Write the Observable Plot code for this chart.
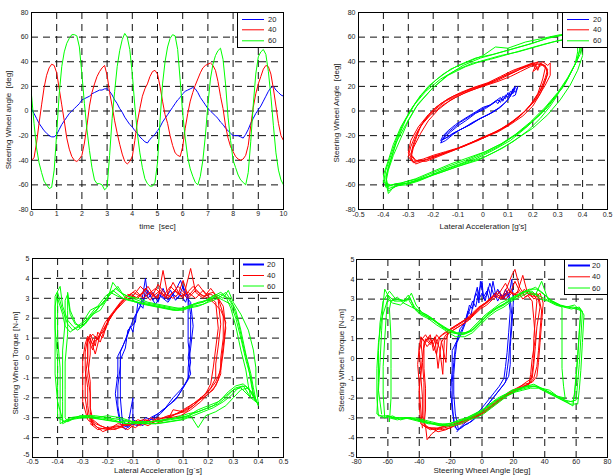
<!DOCTYPE html>
<html>
<head>
<meta charset="utf-8">
<script src="https://cdn.jsdelivr.net/npm/d3@7"></script>
<script src="https://cdn.jsdelivr.net/npm/@observablehq/plot@0.6"></script>
<style>
  html, body { margin: 0; padding: 0; background: #fff; }
  body { width: 613px; height: 476px; position: relative; overflow: hidden; font-family: "Liberation Sans", Arial, sans-serif; }
  .panel { position: absolute; }
  .legend { position: absolute; }
</style>
</head>
<body>
<script>
// ---------- series ----------
const seriesNames = ["20", "40", "60"];
const seriesColors = ["#0000ff", "#ff0000", "#00ff00"];

// ---------- tick labels ----------
const ticksTime = [0, 1, 2, 3, 4, 5, 6, 7, 8, 9, 10];
const ticksAngle = [-80, -60, -40, -20, 0, 20, 40, 60, 80];
const ticksAcc = [-0.5, -0.4, -0.3, -0.2, -0.1, 0, 0.1, 0.2, 0.3, 0.4, 0.5];
const ticksTorque = [-5, -4, -3, -2, -1, 0, 1, 2, 3, 4, 5];

// ---------- panel 1 : steering wheel angle vs time ----------
const p1Time = [0,0.1,0.2,0.3,0.4,0.5,0.6,0.7,0.8,0.9,1,1.1,1.2,1.3,1.4,1.5,1.6,1.7,1.8,1.9,2,2.1,2.2,2.3,2.4,2.5,2.6,2.7,2.8,2.9,3,3.1,3.2,3.3,3.4,3.5,3.6,3.7,3.8,3.9,4,4.1,4.2,4.3,4.4,4.5,4.6,4.7,4.8,4.9,5,5.1,5.2,5.3,5.4,5.5,5.6,5.7,5.8,5.9,6,6.1,6.2,6.3,6.4,6.5,6.6,6.7,6.8,6.9,7,7.1,7.2,7.3,7.4,7.5,7.6,7.7,7.8,7.9,8,8.1,8.2,8.3,8.4,8.5,8.6,8.7,8.8,8.9,9,9.1,9.2,9.3,9.4,9.5,9.6,9.7,9.8,9.9,10];
const p1Angle20 = [2,-2,-6,-10,-13,-16,-18,-20,-21,-21,-19,-15,-11,-8,-5,-2,0,2,4,6,9,10,11,12,14,15,16,17,17,18,18,16,13,9,6,2,-1,-5,-8,-11,-13,-16,-18,-21,-23,-25,-26,-23,-21,-19,-16,-13,-9,-6,-3,0,3,6,9,11,14,16,17,18,19,18,15,11,8,5,2,0,-2,-4,-6,-9,-11,-14,-16,-18,-20,-20,-20,-21,-22,-19,-15,-10,-6,-2,1,4,8,12,16,19,20,17,15,13,12];
const p1Angle40 = [-40,-38,-26,-10,5,19,29,35,38,37,31,18,5,-8,-22,-31,-37,-40,-41,-39,-36,-26,-12,4,15,22,28,32,35,37,29,15,4,-8,-18,-27,-35,-41,-43,-41,-37,-24,-9,2,12,18,22,28,32,33,30,20,8,-3,-10,-20,-28,-34,-36,-37,-29,-14,-2,8,15,21,26,31,35,37,38,39,37,33,24,12,2,-12,-22,-29,-33,-37,-39,-40,-39,-36,-28,-12,3,14,22,28,34,37,36,30,18,4,-10,-20,-24];
const p1Angle60 = [13,-10,-30,-42,-50,-57,-60,-63,-62,-48,-18,14,36,48,55,59,62,62,61,52,30,6,-15,-32,-46,-56,-59,-59,-60,-64,-62,-36,-6,16,36,49,58,63,60,50,30,4,-18,-34,-46,-55,-59,-61,-61,-58,-42,-8,22,40,52,59,62,61,50,25,-2,-22,-38,-47,-53,-58,-60,-53,-40,-20,5,26,38,45,49,51,42,22,-5,-24,-40,-46,-52,-56,-58,-60,-50,-25,5,30,44,48,50,46,32,12,-12,-34,-48,-56,-60];

// ---------- panel 2 : [lateral acceleration g, steering angle deg] ----------
const p2Loop20 = [[0.06,2],[0.02,-3],[-0.02,-7],[-0.06,-12],[-0.1,-16],[-0.14,-21],[-0.17,-24],[-0.16,-20],[-0.14,-16],[-0.11,-11],[-0.08,-7],[-0.04,-2],[0,3],[0.03,5],[0.05,8],[0.06,6],[0.07,10],[0.08,8],[0.09,13],[0.1,11],[0.11,16],[0.12,14],[0.13,19],[0.12,17],[0.11,12],[0.09,7],[0.06,2],[0.03,-2],[-0.01,-6],[-0.05,-11],[-0.09,-15],[-0.12,-19],[-0.15,-24],[-0.17,-26],[-0.16,-22],[-0.13,-17],[-0.1,-12],[-0.07,-8],[-0.03,-2],[0.01,2],[0.04,6],[0.06,9],[0.07,7],[0.08,12],[0.09,10],[0.1,15],[0.11,13],[0.12,18],[0.13,20],[0.12,16],[0.1,9],[0.07,3],[0.04,-1],[0,-5],[-0.04,-9],[-0.08,-14],[-0.12,-18],[-0.15,-22],[-0.16,-23],[-0.15,-19],[-0.12,-14],[-0.09,-9],[-0.05,-4],[-0.01,1],[0.03,5],[0.05,8],[0.07,11],[0.08,9],[0.1,14],[0.11,12],[0.12,17],[0.13,15],[0.14,20],[0.13,13],[0.12,12]];
const p2Loop40 = [[-0.27,-41],[-0.29,-36],[-0.28,-27],[-0.26,-16],[-0.23,-6],[-0.19,3],[-0.14,10],[-0.09,15],[-0.04,19],[0.02,23],[0.07,28],[0.12,33],[0.16,36],[0.2,39],[0.23,39],[0.25,35],[0.24,26],[0.22,14],[0.19,5],[0.15,-4],[0.1,-12],[0.04,-18],[-0.02,-24],[-0.08,-29],[-0.14,-33],[-0.19,-37],[-0.24,-40],[-0.28,-42],[-0.3,-37],[-0.29,-29],[-0.27,-19],[-0.24,-9],[-0.2,0],[-0.15,8],[-0.1,13],[-0.05,18],[0,21],[0.05,25],[0.1,30],[0.14,34],[0.18,37],[0.21,38],[0.22,33],[0.23,39],[0.25,36],[0.26,31],[0.25,24],[0.23,14],[0.2,4],[0.16,-4],[0.11,-11],[0.06,-17],[0,-22],[-0.06,-27],[-0.12,-32],[-0.18,-36],[-0.23,-40],[-0.27,-43],[-0.29,-39],[-0.28,-30],[-0.25,-18],[-0.22,-8],[-0.18,1],[-0.13,9],[-0.08,14],[-0.03,18],[0.03,23],[0.08,28],[0.13,32],[0.17,36],[0.2,39],[0.21,34],[0.24,40],[0.26,37],[0.27,39],[0.27,29],[0.25,21],[0.22,11],[0.18,2],[0.13,-7],[0.08,-14],[0.02,-20],[-0.04,-25],[-0.1,-30],[-0.15,-33],[-0.2,-36],[-0.24,-39],[-0.28,-41],[-0.3,-34],[-0.29,-24],[-0.26,-13],[-0.22,-3],[-0.17,6],[-0.12,12],[-0.07,16],[-0.01,20],[0.05,24],[0.1,29],[0.15,34],[0.19,37],[0.22,40],[0.2,32],[0.24,38],[0.26,34],[0.25,27],[0.23,17],[0.2,7],[0.16,-2],[0.11,-10],[0.05,-17],[-0.01,-22],[-0.07,-28],[-0.13,-33],[-0.18,-37],[-0.23,-41],[-0.27,-40],[-0.29,-35],[-0.27,-23],[-0.25,-12],[-0.21,-3],[-0.16,5],[-0.11,11],[-0.06,16],[0,20],[0.06,24],[0.11,28],[0.15,32],[0.19,36],[0.22,38],[0.25,37],[0.26,30],[0.24,20],[0.21,9],[0.17,0],[0.12,-8],[0.07,-15],[0.01,-21],[-0.05,-26],[-0.11,-31],[-0.17,-35],[-0.22,-38]];
const p2Loop60 = [[0.3,13],[0.27,4],[0.23,-6],[0.18,-16],[0.12,-25],[0.05,-33],[-0.02,-40],[-0.1,-45],[-0.17,-50],[-0.23,-54],[-0.29,-58],[-0.34,-60],[-0.38,-65],[-0.39,-55],[-0.38,-45],[-0.36,-33],[-0.34,-21],[-0.31,-7],[-0.27,7],[-0.22,20],[-0.16,30],[-0.1,37],[-0.03,43],[0.04,46],[0.11,50],[0.18,54],[0.26,59],[0.33,62],[0.38,60],[0.39,52],[0.38,42],[0.35,30],[0.32,19],[0.27,7],[0.23,-3],[0.17,-14],[0.11,-24],[0.04,-32],[-0.03,-39],[-0.1,-44],[-0.17,-49],[-0.24,-55],[-0.3,-59],[-0.35,-59],[-0.39,-62],[-0.4,-52],[-0.38,-40],[-0.36,-27],[-0.33,-13],[-0.29,1],[-0.25,13],[-0.19,25],[-0.13,34],[-0.06,40],[0,45],[0.05,52],[0.1,51],[0.17,56],[0.24,59],[0.31,62],[0.36,63],[0.4,57],[0.39,46],[0.36,34],[0.33,22],[0.29,11],[0.24,0],[0.18,-12],[0.12,-21],[0.06,-29],[-0.01,-36],[-0.08,-42],[-0.15,-47],[-0.22,-53],[-0.28,-57],[-0.33,-60],[-0.38,-63],[-0.39,-53],[-0.37,-40],[-0.35,-26],[-0.31,-11],[-0.27,3],[-0.21,17],[-0.15,28],[-0.08,37],[-0.01,43],[0.06,47],[0.13,51],[0.2,55],[0.27,60],[0.33,62],[0.38,58],[0.38,48],[0.37,38],[0.34,27],[0.3,15],[0.25,3],[0.19,-9],[0.13,-19],[0.07,-27],[0,-34],[-0.07,-40],[-0.14,-45],[-0.2,-50],[-0.26,-55],[-0.32,-58],[-0.37,-60],[-0.4,-58],[-0.39,-48],[-0.37,-36],[-0.35,-24],[-0.32,-10],[-0.28,4],[-0.23,16],[-0.17,26],[-0.11,33],[-0.04,39],[0.03,42],[0.1,46],[0.17,50],[0.24,54],[0.3,57],[0.35,58],[0.38,55],[0.39,50],[0.37,38],[0.34,26],[0.3,14],[0.26,3],[0.2,-8],[0.14,-18],[0.08,-26],[0.01,-33],[-0.06,-38],[-0.13,-43],[-0.2,-49],[-0.27,-55],[-0.32,-58],[-0.36,-62],[-0.38,-67],[-0.39,-58],[-0.38,-48],[-0.36,-36],[-0.33,-22],[-0.3,-8],[-0.26,6],[-0.2,19],[-0.14,29],[-0.07,36],[0,41],[0.07,45],[0.14,48],[0.21,52],[0.28,56],[0.34,59],[0.39,55],[0.4,45],[0.38,33],[0.35,21],[0.31,9],[0.26,-3],[0.2,-14],[0.14,-22],[0.08,-30],[0.01,-37],[-0.06,-42],[-0.13,-47],[-0.2,-52],[-0.26,-57],[-0.31,-60],[-0.36,-61],[-0.39,-60]];

// ---------- panel 3 : [lateral acceleration g, steering torque N-m] ----------
const p3Loop20 = [[-0.15,-3.2],[-0.16,-2.4],[-0.16,-1.4],[-0.15,-0.4],[-0.15,0.3],[-0.13,0.9],[-0.11,1.6],[-0.1,1.3],[-0.09,2.1],[-0.07,2.6],[-0.06,3.2],[-0.05,4],[-0.04,3],[-0.02,3.3],[0,2.8],[0.02,3.5],[0.04,2.9],[0.06,3.2],[0.08,3],[0.1,3.6],[0.12,3],[0.13,2.2],[0.13,1],[0.12,0],[0.13,-0.8],[0.11,-1.3],[0.09,-1.7],[0.07,-2.1],[0.04,-2.4],[0.01,-2.8],[-0.02,-3.1],[-0.05,-3],[-0.08,-3.4],[-0.11,-3.3],[-0.13,-3.6],[-0.15,-3.3],[-0.16,-2.7],[-0.17,-1.8],[-0.16,-0.8],[-0.16,0.1],[-0.14,0.6],[-0.12,1.2],[-0.1,1.9],[-0.08,2.4],[-0.06,2.9],[-0.04,3.4],[-0.02,2.9],[0,3.2],[0.03,3],[0.05,3.4],[0.07,2.9],[0.09,3.2],[0.11,2.8],[0.12,3.2],[0.12,2],[0.12,0.8],[0.13,-0.2],[0.12,-1],[0.1,-1.5],[0.08,-1.9],[0.05,-2.3],[0.02,-2.6],[-0.01,-2.9],[-0.04,-3.2],[-0.07,-3.3],[-0.1,-3.1],[-0.1,-2],[-0.12,-3.4],[-0.14,-3.5],[-0.15,-2],[-0.15,-1],[-0.15,-0.1],[-0.13,0.5],[-0.12,1.4],[-0.09,1.8],[-0.08,2.8],[-0.06,2.5],[-0.05,3.5],[-0.03,3.1],[-0.01,2.7],[0.01,3.1],[0.04,2.8],[0.07,3.4],[0.09,3.9],[0.11,3.1],[0.13,2.8],[0.14,1.6],[0.13,0.5],[0.12,-0.5],[0.12,-1.1],[0.09,-1.6],[0.06,-2],[0.03,-2.5],[0,-2.8],[-0.03,-3],[-0.06,-3.4],[-0.09,-3.2],[-0.12,-3.5],[-0.14,-3.1]];
const p3Loop40 = [[-0.27,-3.2],[-0.28,-2.4],[-0.28,-1.5],[-0.29,-0.6],[-0.29,0.3],[-0.28,1],[-0.26,0.4],[-0.25,1.1],[-0.23,0.8],[-0.21,1.6],[-0.18,2.2],[-0.15,2.7],[-0.12,3.1],[-0.09,3.4],[-0.06,3],[-0.03,3.3],[0,3],[0.02,4.4],[0.04,3.1],[0.07,3.4],[0.1,3],[0.13,4.5],[0.15,3.3],[0.18,3],[0.21,3.5],[0.24,3],[0.26,2.2],[0.26,1],[0.25,0],[0.25,-0.8],[0.23,-1.4],[0.2,-1.8],[0.17,-2.2],[0.13,-2.6],[0.09,-2.9],[0.05,-3],[0.01,-3.2],[-0.03,-3],[-0.07,-3.4],[-0.11,-3.2],[-0.15,-3.5],[-0.19,-3.6],[-0.23,-3.4],[-0.26,-3.1],[-0.27,-2.5],[-0.27,-1.2],[-0.28,-0.2],[-0.28,0.8],[-0.27,1.2],[-0.25,0.6],[-0.24,1.3],[-0.22,1],[-0.2,1.9],[-0.17,2.4],[-0.14,2.9],[-0.11,3.2],[-0.08,3],[-0.05,3.5],[-0.02,3.1],[0.01,3.4],[0.03,3],[0.06,3.8],[0.09,3.1],[0.12,3.3],[0.15,3],[0.18,3.4],[0.2,3.1],[0.23,2.8],[0.24,1.5],[0.23,0.5],[0.22,-0.5],[0.21,-1.3],[0.19,-1.8],[0.15,-2.3],[0.11,-2.7],[0.07,-2.8],[0.03,-3.1],[-0.01,-3.3],[-0.05,-3.1],[-0.09,-3.5],[-0.13,-3.3],[-0.17,-3.6],[-0.21,-3.5],[-0.25,-3.3],[-0.28,-2.9],[-0.29,-2],[-0.29,-1],[-0.28,0],[-0.28,0.9],[-0.26,1.2],[-0.24,0.9],[-0.22,1.4],[-0.19,2],[-0.16,2.6],[-0.13,3],[-0.1,3.3],[-0.07,3.1],[-0.04,3.6],[-0.01,3],[0.01,3.3],[0.04,3],[0.08,3.6],[0.11,3.2],[0.14,3.6],[0.17,3.2],[0.2,3],[0.22,2.8],[0.25,2.4],[0.27,1.8],[0.26,0.6],[0.25,-0.4],[0.24,-1.1],[0.22,-1.6],[0.18,-2],[0.14,-2.3],[0.1,-2.6],[0.06,-2.9],[0.02,-3],[-0.02,-3.2],[-0.06,-3.1],[-0.1,-3.3],[-0.14,-3.4],[-0.18,-3.5],[-0.22,-3.7],[-0.25,-3.4],[-0.27,-3],[-0.26,-3.4],[-0.27,-2.7],[-0.27,-1.8],[-0.28,-0.9],[-0.27,0.2],[-0.27,1],[-0.25,0.2],[-0.23,1.2],[-0.21,1.4],[-0.19,2.1],[-0.16,2.5],[-0.13,2.9],[-0.1,3.1],[-0.07,3.6],[-0.04,3.2],[-0.01,3.5],[0.02,3.1],[0.05,3.6],[0.08,3.2],[0.1,3.9],[0.12,3.1],[0.16,3.7],[0.19,3.2],[0.22,3.3],[0.24,2.9],[0.25,1.7],[0.24,0.6],[0.23,-0.3],[0.23,-1],[0.21,-1.5],[0.18,-1.9],[0.14,-2.4],[0.1,-2.7],[0.06,-2.6],[0.04,-3.1],[0,-3],[-0.04,-3.3],[-0.08,-3.1],[-0.12,-3.4],[-0.16,-3.3],[-0.2,-3.6],[-0.24,-3.5],[-0.28,-3.1],[-0.3,-2.2],[-0.3,-1.2],[-0.3,-0.1],[-0.29,0.7],[-0.28,1.1],[-0.26,0.7],[-0.24,1],[-0.21,1.8],[-0.18,2.3],[-0.15,2.8],[-0.12,3.2],[-0.09,3],[-0.06,3.3],[-0.03,2.9],[0,3.7],[0.03,3.2],[0.06,3],[0.09,3.3],[0.12,3],[0.15,3.4],[0.18,3.1],[0.21,3.2],[0.24,3],[0.26,2.6],[0.27,1.5],[0.26,0.3],[0.25,-0.6],[0.23,-1.2],[0.2,-1.7],[0.16,-2.1],[0.12,-2.5],[0.08,-2.8],[0.04,-2.9],[0,-3.1],[-0.04,-3.4],[-0.08,-3.2],[-0.12,-3.6],[-0.16,-3.4],[-0.2,-3.5],[-0.24,-3.6],[-0.27,-3.3]];
const p3Loop60 = [[-0.38,-3.1],[-0.4,-2.2],[-0.41,-0.8],[-0.41,0.8],[-0.41,2.2],[-0.41,3.1],[-0.39,3.6],[-0.38,2.6],[-0.36,1.9],[-0.34,1.6],[-0.32,1.4],[-0.29,1.7],[-0.26,2.2],[-0.23,2.4],[-0.2,3],[-0.18,3.8],[-0.15,3.3],[-0.12,3.1],[-0.08,3],[-0.04,2.8],[0,2.7],[0.04,2.6],[0.08,2.5],[0.12,2.5],[0.16,2.6],[0.2,2.8],[0.24,3],[0.27,3.3],[0.29,2.9],[0.31,2.4],[0.33,1.4],[0.35,0.2],[0.37,-0.8],[0.38,-1.5],[0.39,-2.1],[0.37,-1.7],[0.34,-1.3],[0.31,-1.4],[0.28,-1.7],[0.25,-2.1],[0.22,-2.4],[0.18,-2.6],[0.14,-2.8],[0.1,-3],[0.05,-3.1],[0,-3.2],[-0.05,-3.2],[-0.1,-3.2],[-0.15,-3.1],[-0.2,-3],[-0.25,-2.9],[-0.3,-2.9],[-0.35,-3],[-0.39,-3.3],[-0.39,-2],[-0.39,-0.5],[-0.4,1],[-0.4,2.4],[-0.4,3],[-0.38,2.2],[-0.37,1.6],[-0.35,1.3],[-0.33,1.5],[-0.3,1.8],[-0.27,2.4],[-0.24,2.6],[-0.21,3.1],[-0.18,3.4],[-0.14,3],[-0.1,2.9],[-0.06,2.7],[-0.02,2.6],[0.02,2.5],[0.06,2.4],[0.1,2.4],[0.14,2.6],[0.18,2.7],[0.22,3],[0.25,3.2],[0.28,3],[0.3,2.6],[0.32,1.8],[0.34,0.6],[0.36,-0.4],[0.37,-1.2],[0.38,-1.9],[0.39,-2.2],[0.36,-1.5],[0.33,-1.6],[0.3,-2],[0.27,-2.4],[0.23,-2.7],[0.19,-2.9],[0.16,-3.5],[0.13,-2.9],[0.09,-3.1],[0.04,-3.2],[-0.01,-3.3],[-0.06,-3.3],[-0.11,-3.2],[-0.16,-3.2],[-0.21,-3.1],[-0.26,-3],[-0.31,-2.9],[-0.36,-3.2],[-0.37,-3],[-0.37,-1.6],[-0.37,-0.2],[-0.36,1.2],[-0.36,2.4],[-0.36,3.3],[-0.35,2.4],[-0.33,1.8],[-0.31,1.5],[-0.28,1.9],[-0.25,2.3],[-0.22,2.8],[-0.19,3.2],[-0.16,3.6],[-0.13,3],[-0.09,2.8],[-0.05,2.7],[-0.01,2.6],[0.03,2.5],[0.07,2.4],[0.11,2.5],[0.15,2.7],[0.19,2.9],[0.23,3.2],[0.26,3],[0.28,3.4],[0.3,2.8],[0.33,2.2],[0.36,1.4],[0.38,0.4],[0.39,-0.5],[0.39,-1.4],[0.4,-2.3],[0.37,-2],[0.33,-1.5],[0.3,-1.6],[0.27,-2],[0.24,-2.3],[0.2,-2.5],[0.16,-2.7],[0.12,-2.8],[0.07,-3],[0.02,-3.1],[-0.03,-3.2],[-0.08,-3.3],[-0.13,-3.3],[-0.18,-3.1],[-0.23,-3],[-0.28,-2.9],[-0.33,-3],[-0.37,-3.2],[-0.4,-3],[-0.4,-1.5],[-0.4,0],[-0.41,1.5],[-0.41,2.6],[-0.4,3.3],[-0.38,2.4],[-0.36,1.7],[-0.34,1.4],[-0.31,1.6],[-0.28,2],[-0.25,2.5],[-0.22,2.7],[-0.19,3.3],[-0.16,3.1],[-0.12,2.9],[-0.08,2.8],[-0.04,2.7],[0,2.6],[0.04,2.5],[0.08,2.4],[0.12,2.6],[0.16,2.8],[0.2,2.9],[0.23,3.1],[0.26,2.9],[0.29,2.7],[0.31,2],[0.33,1],[0.35,-0.1],[0.37,-1],[0.38,-1.8],[0.4,-2.4],[0.38,-1.8],[0.35,-1.4],[0.32,-1.5],[0.29,-1.9],[0.26,-2.2],[0.22,-2.5],[0.18,-2.7],[0.14,-2.9],[0.1,-3.1],[0.05,-3.2],[0,-3.3],[-0.05,-3.3],[-0.1,-3.2],[-0.15,-3],[-0.2,-2.9],[-0.25,-3],[-0.3,-3],[-0.35,-3.1],[-0.38,-3.3],[-0.38,-2.2],[-0.38,-1],[-0.38,0.4],[-0.37,1.8],[-0.37,2.9],[-0.36,3.2],[-0.35,2.2],[-0.33,1.7],[-0.3,1.6],[-0.27,2.1],[-0.24,2.5],[-0.21,2.9],[-0.17,3.5],[-0.14,3.2],[-0.1,3],[-0.06,2.8],[-0.02,2.7],[0.02,2.6],[0.06,2.5],[0.1,2.5],[0.14,2.7],[0.18,2.8],[0.22,3.1],[0.25,3.3],[0.27,3.1],[0.29,2.5],[0.31,1.6],[0.33,0.4],[0.35,-0.6],[0.36,-1.4],[0.37,-2],[0.34,-1.4],[0.31,-1.5],[0.28,-1.8],[0.24,-2.2],[0.2,-2.4],[0.16,-2.6],[0.12,-2.9],[0.08,-3],[0.03,-3.1],[-0.02,-3.2],[-0.07,-3.2],[-0.12,-3.3],[-0.17,-3.2],[-0.22,-3.1],[-0.27,-3],[-0.32,-3],[-0.36,-3.1]];

// ---------- panel 4 : [steering angle deg, steering torque N-m] ----------
const p4Loop20 = [[-17,-3.5],[-19,-2.6],[-20,-1.6],[-19,-0.6],[-19,0.4],[-16,0.9],[-14,1.5],[-11,1.8],[-9,2.4],[-7,2.2],[-5,3],[-3,3.6],[-2,2.8],[-1,3.9],[1,3.1],[3,3.4],[5,2.9],[7,3.9],[9,3.1],[11,3.4],[13,3],[15,3.5],[17,3.1],[19,4],[20,2.9],[19,1.6],[18,0.6],[18,-0.3],[17,-0.9],[14,-1.3],[11,-1.6],[8,-1.9],[5,-2.2],[2,-2.5],[-1,-2.8],[-4,-3],[-7,-3.2],[-10,-3.3],[-13,-3.5],[-16,-3.6],[-18,-3.2],[-19,-2.2],[-19,-1.2],[-18,-0.2],[-17,0.6],[-15,1.1],[-12,1.6],[-10,2],[-8,2.7],[-6,2.5],[-4,3.3],[-2,3],[0,3.3],[2,2.9],[4,3.6],[6,3],[8,3.3],[10,2.9],[12,3.2],[14,3],[16,3.4],[18,3],[19,2.2],[18,1],[17,0],[16,-0.6],[15,-1.2],[12,-1.5],[9,-1.8],[6,-2.1],[3,-2.4],[0,-2.7],[-3,-2.9],[-6,-3.1],[-9,-3.3],[-12,-3.4],[-15,-3.6],[-17,-2.8],[-18,-1.8],[-18,-0.8],[-17,0.2],[-16,0.8],[-13,1.3],[-11,1.7],[-9,2.2],[-6,2.9],[-4,2.6],[-2,3.4],[0,3.9],[1,3],[3,3.2],[5,3.8],[8,3.1],[10,3.5],[13,3.1],[15,3.3],[17,3],[18,2.4],[17,1.3],[16,0.3],[15,-0.4],[14,-1],[11,-1.4],[8,-1.7],[5,-2],[2,-2.3],[-1,-2.6],[-4,-2.8],[-7,-3],[-10,-3.2],[-13,-3.4],[-16,-3.7]];
const p4Loop40 = [[-38,-3.5],[-39,-2.6],[-40,-1.6],[-39,-0.6],[-40,0.4],[-38,1],[-35,0.6],[-32,0.9],[-29,0.2],[-27,1.1],[-24,1.3],[-20,1.5],[-16,1.7],[-12,1.9],[-8,2.1],[-4,2.4],[0,2.7],[4,2.9],[8,3.2],[12,3],[16,3.6],[19,4.2],[21,4.5],[24,3.6],[27,3.2],[30,3.4],[33,3],[36,3.2],[38,2.4],[37,1.4],[36,0.4],[35,-0.4],[33,-1],[30,-1.3],[26,-1.4],[21,-1.6],[16,-1.8],[11,-2.1],[6,-2.4],[1,-2.7],[-4,-2.9],[-9,-3.1],[-14,-3.2],[-19,-3.4],[-24,-3.5],[-29,-3.6],[-34,-3.5],[-37,-3.3],[-37,-2.3],[-37,-1.2],[-38,-0.2],[-37,0.8],[-34,1.1],[-31,0.7],[-29,1.2],[-26,0.9],[-23,-0.2],[-22,1.4],[-18,1.6],[-14,1.8],[-10,2],[-6,2.3],[-2,2.6],[2,2.8],[6,3.1],[10,3.4],[14,3.1],[18,3.4],[22,3.2],[26,4.2],[29,3.3],[32,3.1],[35,3.3],[37,2.6],[35,1.6],[34,0.6],[33,-0.3],[32,-1],[28,-1.2],[23,-1.5],[18,-1.7],[13,-2],[8,-2.3],[3,-2.6],[-2,-2.8],[-7,-3],[-12,-3.2],[-17,-3.3],[-22,-3.4],[-27,-3.5],[-32,-3.8],[-35,-4.1],[-36,-3.4],[-38,-2.9],[-38,-1.9],[-39,-0.9],[-38,0.1],[-39,0.9],[-36,1.2],[-33,0.8],[-30,1],[-28,-0.5],[-26,0.8],[-23,1.2],[-19,1.4],[-15,1.6],[-11,1.8],[-7,2.1],[-3,2.4],[1,2.7],[5,3],[9,3.3],[13,3],[17,3.5],[20,3.2],[23,3.4],[26,3],[29,3.2],[32,2.9],[33,2],[34,1],[32,0],[31,-0.8],[30,-1.3],[25,-1.5],[20,-1.7],[15,-1.9],[10,-2.2],[5,-2.5],[0,-2.8],[-5,-3],[-10,-3.1],[-15,-3.3],[-20,-3.5],[-25,-3.6],[-30,-3.5],[-35,-3.5],[-39,-3.3],[-40,-2.4],[-40,-1.3],[-41,-0.3],[-40,0.6],[-39,1.1],[-36,0.8],[-33,1.2],[-31,0.4],[-28,1],[-25,1.2],[-21,1.4],[-17,1.6],[-13,1.8],[-9,2],[-5,2.3],[-1,2.6],[3,2.8],[7,3.1],[11,3.3],[15,3.8],[18,3.3],[21,3.9],[24,3.4],[28,3.1],[31,3.3],[34,3.1],[37,3.3],[39,2.8],[38,1.8],[37,0.8],[36,-0.2],[35,-0.9],[32,-1.2],[27,-1.3],[22,-1.5],[17,-1.7],[12,-2],[7,-2.3],[2,-2.6],[-3,-2.8],[-8,-3],[-13,-3.1],[-18,-3.3],[-23,-3.4],[-28,-3.5],[-33,-3.6],[-37,-3.4],[-36,-2.6],[-36,-1.5],[-37,-0.5],[-37,0.5],[-36,1],[-33,0.7],[-30,1.1],[-27,0.5],[-25,-0.8],[-24,0.9],[-21,1.3],[-17,1.5],[-13,1.7],[-9,1.9],[-5,2.2],[-1,2.5],[3,2.7],[7,3],[11,3.2],[15,3],[19,3.3],[23,3.1],[27,3.5],[30,3.2],[33,3.3],[35,2.9],[34,2],[33,1],[33,0],[32,-0.7],[31,-1.2],[27,-1.4],[22,-1.6],[17,-1.8],[12,-2.1],[7,-2.4],[2,-2.7],[-3,-2.9],[-8,-3.1],[-13,-3.3],[-18,-3.4],[-23,-3.6],[-28,-3.7],[-33,-3.5],[-37,-3.4]];
const p4Loop60 = [[-64,-2.8],[-66,-1.6],[-65,-0.2],[-64,1.4],[-63,2.8],[-62,3.5],[-58,2.9],[-53,3],[-48,2.9],[-45,3.3],[-42,2.7],[-38,2.3],[-33,2.1],[-28,1.8],[-22,1.5],[-16,1.3],[-10,1.3],[-5,1.5],[0,1.9],[5,2.3],[10,2.6],[15,2.8],[20,3],[25,3.3],[30,3.5],[35,3.5],[40,3.2],[45,2.9],[50,2.7],[55,2.6],[60,2.5],[64,2.4],[63,1],[62,-0.3],[61,-1.2],[60,-2.1],[55,-2.2],[50,-2],[45,-1.8],[40,-1.6],[35,-1.4],[30,-1.4],[25,-1.5],[20,-1.6],[15,-1.8],[10,-2],[5,-2.3],[0,-2.6],[-5,-2.8],[-10,-3],[-15,-3.1],[-20,-3.3],[-25,-3.3],[-30,-3.3],[-35,-3.2],[-40,-3.1],[-45,-3],[-50,-3],[-55,-3],[-60,-2.9],[-66,-2.9],[-67,-2],[-67,-0.5],[-66,0.8],[-64,2],[-60,3],[-57,2.8],[-52,2.7],[-46,3.1],[-43,2.5],[-39,2.2],[-34,2],[-29,1.7],[-23,1.4],[-17,1.1],[-11,1.1],[-6,1.3],[-1,1.7],[4,2.1],[9,2.4],[14,2.6],[19,2.9],[24,3.1],[29,3.3],[34,3.2],[38,3.9],[42,3],[47,2.8],[52,2.6],[57,2.5],[62,2.6],[65,2.2],[64,0.8],[63,-0.6],[62,-1.6],[61,-2.3],[56,-2.3],[51,-2.1],[46,-1.9],[41,-1.7],[36,-1.5],[31,-1.5],[26,-1.6],[21,-1.7],[16,-1.9],[11,-2.2],[6,-2.5],[1,-2.8],[-4,-3],[-9,-3.1],[-14,-3.3],[-19,-3.4],[-24,-3.4],[-29,-3.3],[-34,-3.3],[-39,-3.2],[-44,-3.1],[-49,-3],[-54,-3.1],[-59,-3],[-59,-3.2],[-58,-2],[-58,-0.5],[-58,1],[-59,2.5],[-58,2.9],[-54,3.1],[-50,2.8],[-45,2.6],[-40,2.4],[-35,2.2],[-30,1.9],[-25,1.6],[-20,1.4],[-14,1.2],[-8,1.4],[-3,1.8],[2,2.2],[7,2.5],[12,2.8],[17,3],[22,3.2],[27,3.4],[32,3.4],[37,3],[42,2.9],[47,2.7],[51,2.6],[51,1],[51,-0.5],[52,-1.4],[53,-2],[48,-1.9],[43,-1.6],[38,-1.5],[33,-1.3],[28,-1.4],[23,-1.6],[18,-1.7],[13,-1.9],[8,-2.2],[3,-2.5],[-2,-2.7],[-7,-2.9],[-12,-3.1],[-17,-3.2],[-22,-3.3],[-27,-3.4],[-32,-3.3],[-37,-3.2],[-42,-3.1],[-47,-3],[-52,-3],[-57,-3],[-60,-2.9],[-62,-3],[-63,-1.8],[-63,-0.4],[-62,1],[-61,2.2],[-60,3.2],[-56,2.9],[-51,2.9],[-47,3],[-44,2.6],[-40,2.3],[-35,2.1],[-30,1.9],[-25,1.6],[-19,1.3],[-13,1.2],[-7,1.4],[-2,1.8],[3,2.2],[8,2.5],[13,2.7],[18,3],[23,3.2],[28,3.4],[33,3.3],[38,3.1],[43,2.9],[48,2.7],[53,2.6],[58,2.6],[63,2.5],[62,1.2],[61,0],[60,-1],[59,-1.8],[58,-2.2],[53,-2.1],[48,-1.9],[43,-1.7],[38,-1.5],[33,-1.4],[28,-1.5],[23,-1.6],[18,-1.8],[13,-2],[8,-2.3],[3,-2.6],[-2,-2.8],[-7,-3],[-12,-3.1],[-17,-3.3],[-22,-3.4],[-27,-3.3],[-32,-3.2],[-37,-3.1],[-42,-3],[-47,-3],[-52,-3.1],[-57,-2.9],[-62,-3],[-67,-2.8],[-66,-1.2],[-66,0.4],[-65,1.8],[-63,2.9],[-59,3.4],[-55,3],[-50,2.9],[-47,3.2],[-43,2.6],[-39,2.3],[-34,2.1],[-29,1.8],[-24,1.5],[-18,1.3],[-12,1.2],[-6,1.4],[-1,1.8],[4,2.2],[9,2.5],[14,2.7],[19,3],[24,3.2],[29,3.4],[34,3.6],[39,3.3],[44,2.9],[49,2.7],[54,2.6],[59,2.7],[63,2.4],[62,1.4],[61,0.2],[60,-0.8],[59,-1.7],[58,-2.4],[54,-2.2],[49,-2],[44,-1.8],[39,-1.6],[34,-1.4],[29,-1.4],[24,-1.5],[19,-1.6],[14,-1.9],[9,-2.1],[4,-2.4],[-1,-2.7],[-6,-2.9],[-11,-3.1],[-16,-3.2],[-21,-3.3],[-26,-3.4],[-31,-3.3],[-36,-3.2],[-41,-3.1],[-46,-3],[-51,-3],[-56,-3],[-61,-2.9]];

// ---------- helpers ----------
const fmt = d => String(d);
const FONT = '"Liberation Sans", Arial, Helvetica, sans-serif';

function rowsFromPairs(list) {
  return list.flatMap((pts, i) => pts.map(([x, y]) => ({x, y, s: seriesNames[i]})));
}

function drawPanel(cfg) {
  const yAxes = cfg.liftBottomY
    ? [
        Plot.axisY(cfg.yTicks.slice(1), {tickSize: 0, tickPadding: cfg.yPad, tickFormat: fmt, fontSize: 7, label: null}),
        Plot.axisY(cfg.yTicks.slice(0, 1), {tickSize: 0, tickPadding: cfg.yPad, tickFormat: fmt, fontSize: 7, label: null, dy: -2.5})
      ]
    : [Plot.axisY(cfg.yTicks, {tickSize: 0, tickPadding: cfg.yPad, tickFormat: fmt, fontSize: 7, label: null})];
  const chart = Plot.plot({
    width: cfg.width,
    height: cfg.height,
    marginLeft: cfg.ml, marginRight: cfg.mr, marginTop: cfg.mt, marginBottom: cfg.mb,
    x: {domain: [cfg.xTicks[0], cfg.xTicks[cfg.xTicks.length - 1]], label: null},
    y: {domain: [cfg.yTicks[0], cfg.yTicks[cfg.yTicks.length - 1]], label: null},
    color: {domain: seriesNames, range: seriesColors},
    style: {fontFamily: FONT, fontSize: "7px", background: "transparent", color: "#1a1a1a", overflow: "visible"},
    marks: [
      Plot.ruleX(cfg.xTicks, {stroke: "#111", strokeWidth: 1, strokeDasharray: "7,5"}),
      Plot.ruleY(cfg.yTicks, {stroke: "#111", strokeWidth: 1, strokeDasharray: "7,5"}),
      Plot.line(cfg.rows, {x: "x", y: "y", z: "s", stroke: "s", strokeWidth: 1, curve: "linear"}),
      Plot.frame({stroke: "#000", strokeWidth: 1}),
      Plot.axisX(cfg.xTicks, {tickSize: 0, tickPadding: cfg.xPad, tickFormat: fmt, fontSize: 7, label: null}),
      ...yAxes,
      Plot.text([cfg.xLabel], {frameAnchor: "bottom", dy: cfg.xLabelDy, textAnchor: "middle", lineAnchor: "middle", fontSize: 8, fill: "#1a1a1a"}),
      Plot.text([cfg.yLabel], {frameAnchor: "left", rotate: -90, dx: cfg.yLabelDx, dy: cfg.yLabelDy, textAnchor: "middle", lineAnchor: "middle", fontSize: 8, fill: "#1a1a1a"})
    ]
  });
  chart.classList.add("panel");
  chart.style.left = cfg.left + "px";
  chart.style.top = cfg.top + "px";
  document.body.appendChild(chart);

  // legend box (inside the axes, upper right)
  const lg = cfg.legend;
  const svg = d3.create("svg").attr("class", "legend")
    .attr("width", lg.w).attr("height", lg.h)
    .style("left", lg.left + "px").style("top", lg.top + "px");
  svg.append("rect").attr("x", 0.5).attr("y", 0.5).attr("width", lg.w - 1).attr("height", lg.h - 1)
    .attr("fill", "#fff").attr("stroke", "#000").attr("stroke-width", 1);
  seriesNames.forEach((name, i) => {
    const yy = lg.rows[i];
    svg.append("line").attr("x1", lg.x1).attr("x2", lg.x2).attr("y1", yy).attr("y2", yy)
      .attr("stroke", seriesColors[i]).attr("stroke-width", (i === 0 && lg.thickBlue) ? 2 : 1);
    svg.append("text").attr("x", lg.tx).attr("y", yy).attr("dy", "0.35em")
      .attr("font-family", FONT).attr("font-size", 7.5).attr("fill", "#1a1a1a").text(name);
  });
  document.body.appendChild(svg.node());
}

// ---------- panel 1 ----------
drawPanel({
  left: 0, top: 0, width: 306, height: 230, ml: 31, mr: 23, mt: 12, mb: 21,
  xTicks: ticksTime, yTicks: ticksAngle, xPad: 2, yPad: 3,
  rows: [p1Angle20, p1Angle40, p1Angle60].flatMap((vals, i) => p1Time.map((t, j) => ({x: t, y: vals[j], s: seriesNames[i]}))),
  xLabel: "time  [sec]", xLabelDy: 17,
  yLabel: "Steering Wheel angle  [deg]", yLabelDx: -23, yLabelDy: 9,
  legend: {left: 237, top: 12, w: 47, h: 36, rows: [7.5, 17.8, 28.8], x1: 5, x2: 27, tx: 31}
});

// ---------- panel 2 ----------
drawPanel({
  left: 306, top: 0, width: 307, height: 230, ml: 52, mr: 6, mt: 12, mb: 21,
  xTicks: ticksAcc, yTicks: ticksAngle, xPad: 3, yPad: 3,
  rows: rowsFromPairs([p2Loop20, p2Loop40, p2Loop60]),
  xLabel: "Lateral Acceleration [g's]", xLabelDy: 17,
  yLabel: "Steering Wheel Angle  [deg]", yLabelDx: -22, yLabelDy: 2,
  legend: {left: 562, top: 12, w: 46, h: 36, rows: [7.5, 17.8, 28.8], x1: 5, x2: 27, tx: 31}
});

// ---------- panel 3 ----------
drawPanel({
  left: 0, top: 230, width: 306, height: 246, ml: 32, mr: 23, mt: 28, mb: 19,
  xTicks: ticksAcc, yTicks: ticksTorque, xPad: 1.5, yPad: 3, liftBottomY: true,
  rows: rowsFromPairs([p3Loop20, p3Loop40, p3Loop60]),
  xLabel: "Lateral Acceleration [g`s]", xLabelDy: 13,
  yLabel: "Steering Wheel Torque [N-m]", yLabelDx: -17, yLabelDy: 5,
  legend: {left: 239, top: 258, w: 45, h: 35, rows: [6.5, 17.5, 28], x1: 4, x2: 25, tx: 28, thickBlue: true}
});

// ---------- panel 4 ----------
drawPanel({
  left: 306, top: 230, width: 307, height: 246, ml: 50, mr: 6, mt: 29, mb: 19,
  xTicks: ticksAngle, yTicks: ticksTorque, xPad: 1.5, yPad: 2, liftBottomY: true,
  rows: rowsFromPairs([p4Loop20, p4Loop40, p4Loop60]),
  xLabel: "Steering Wheel Angle [deg]", xLabelDy: 12.5,
  yLabel: "Steering Wheel Torque [N-m]", yLabelDx: -15, yLabelDy: 2,
  legend: {left: 564, top: 259, w: 44, h: 36, rows: [6.5, 17.8, 29], x1: 4, x2: 26, tx: 28, thickBlue: true}
});
</script>
</body>
</html>
